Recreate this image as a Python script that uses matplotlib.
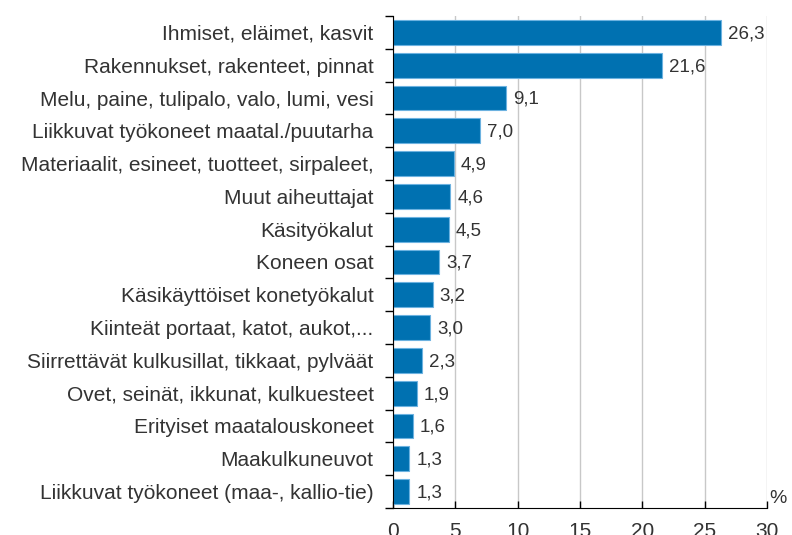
import matplotlib.pyplot as plt
import numpy as np

plt.rcParams['font.family'] = ['Liberation Sans', 'DejaVu Sans']

# categories from top to bottom
categories = [
    "Ihmiset, eläimet, kasvit",
    "Rakennukset, rakenteet, pinnat",
    "Melu, paine, tulipalo, valo, lumi, vesi",
    "Liikkuvat työkoneet maatal./puutarha",
    "Materiaalit, esineet, tuotteet, sirpaleet,",
    "Muut aiheuttajat",
    "Käsityökalut",
    "Koneen osat",
    "Käsikäyttöiset konetyökalut",
    "Kiinteät portaat, katot, aukot,...",
    "Siirrettävät kulkusillat, tikkaat, pylväät",
    "Ovet, seinät, ikkunat, kulkuesteet",
    "Erityiset maatalouskoneet",
    "Maakulkuneuvot",
    "Liikkuvat työkoneet (maa-, kallio-tie)",
]
values = [26.3, 21.6, 9.1, 7.0, 4.9, 4.6, 4.5, 3.7, 3.2, 3.0, 2.3, 1.9, 1.6, 1.3, 1.3]
x_ticks = [0, 5, 10, 15, 20, 25, 30]

text_col = "#333333"
bar_col = "#0071b1"

fig = plt.figure(figsize=(7.92, 5.35), dpi=100)
ax = fig.add_axes([393 / 792, 1 - 508 / 535, 374 / 792, 492 / 535])

y = np.arange(len(categories))
ax.barh(y, values, height=0.76, color=bar_col, edgecolor="#6cb2e0", linewidth=0.8, zorder=3)

# value labels, finnish decimal comma
for yi, v in zip(y, values):
    ax.annotate(f"{v:.1f}".replace(".", ","), (v, yi), xytext=(5, -1), textcoords="offset points",
                va="center", ha="left", fontsize=13.5, color=text_col)

ax.set_ylim(len(categories) - 0.5, -0.5)
ax.set_xlim(0, 30)

ax.set_yticks(y)
ax.set_yticklabels(categories, fontsize=15, color=text_col)
ax.set_yticks(np.arange(len(categories) + 1) - 0.5, minor=True)
ax.tick_params(axis="y", which="major", length=0, pad=14)
ax.tick_params(axis="y", which="minor", length=6, width=1, color="black", direction="out")

ax.set_xticks(x_ticks)
ax.set_xticklabels([str(t) for t in x_ticks], fontsize=15, color=text_col)
ax.tick_params(axis="x", length=5, width=1, direction="in", pad=10, color="black")

ax.grid(axis="x", color="#c8c8c8", linewidth=1, zorder=0)
ax.set_axisbelow(True)
for s in ["top", "right"]:
    ax.spines[s].set_visible(False)
ax.spines["left"].set_color("black")
ax.spines["bottom"].set_color("black")
ax.spines["left"].set_zorder(4)

ax.text(1.03, 0.02, "%", transform=ax.transAxes, fontsize=14, color=text_col, ha="center", va="center")

fig.savefig("out.png", dpi=100)
